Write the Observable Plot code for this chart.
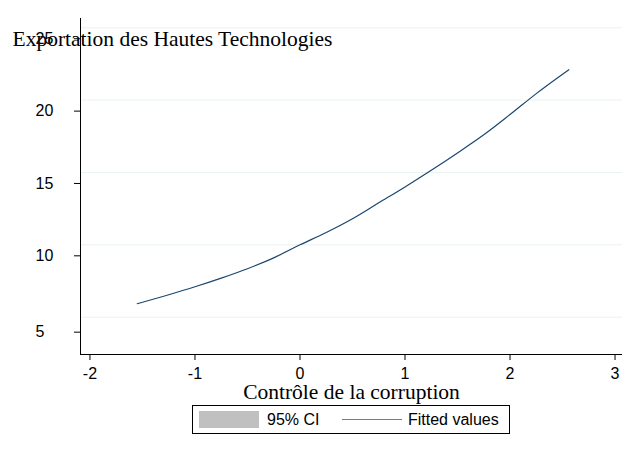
<!DOCTYPE html>
<html>
<head>
<meta charset="utf-8">
<script src="https://cdn.jsdelivr.net/npm/d3@7"></script>
<script src="https://cdn.jsdelivr.net/npm/@observablehq/plot@0.6"></script>
<style>
  html, body { margin: 0; padding: 0; background: #fff; }
  #wrap { position: relative; width: 627px; height: 450px; }
  #legend { position: absolute; left: 192px; top: 405px; width: 318px; height: 29px;
    box-sizing: border-box; border: 1px solid #000; font-family: "Liberation Sans", Arial, sans-serif; font-size: 16px; color: #000; background: #fff; }
  #legend .sw { position: absolute; left: 6px; top: 5px; width: 60px; height: 17px; background: #c0c0c0; }
  #legend .t1 { position: absolute; left: 74px; top: 4px; line-height: 20px; }
  #legend .ln { position: absolute; left: 149px; top: 13px; width: 60px; height: 0; border-top: 1.2px solid #5f82a8; }
  #legend .t2 { position: absolute; left: 215px; top: 4px; line-height: 20px; }
</style>
</head>
<body>
<div id="wrap">
  <div id="chart"></div>
  <div id="legend"><div class="sw"></div><span class="t1">95% CI</span><div class="ln"></div><span class="t2">Fitted values</span></div>
</div>
<script>
// Fitted values
const fitX = [-1.55, -1.25, -1, -0.75, -0.5, -0.25, 0, 0.25, 0.5, 0.75, 1, 1.25, 1.5, 1.75, 2, 2.25, 2.56];
const fitY = [5.93, 6.55, 7.1, 7.7, 8.35, 9.1, 10.0, 10.85, 11.8, 12.9, 14.0, 15.15, 16.35, 17.6, 19.0, 20.45, 22.1];
const xTicks = [-2, -1, 0, 1, 2, 3];
const yTicksMain = [10, 15, 20, 25];
const yTicksLow = [5];
const xDomain = [-2.09, 3.071];
const yDomain = [2.42, 25.64];
const xTitle = "Contrôle de la corruption";
const yTitle = "Exportation des Hautes Technologies";

const data = fitX.map((x, i) => ({x, y: fitY[i]}));
const sans = "Liberation Sans, Arial, sans-serif";
const serif = "Liberation Serif, Times New Roman, serif";
const fmt = d => String(d);

const chart = Plot.plot({
  width: 627,
  height: 405,
  marginLeft: 80,
  marginRight: 5,
  marginTop: 18,
  marginBottom: 51,
  style: {fontFamily: sans, fontSize: "16px", background: "#fff", color: "#000"},
  x: {domain: xDomain},
  y: {domain: yDomain},
  marks: [
    Plot.gridY(yTicksMain.concat(yTicksLow), {stroke: "#eaf2f3", strokeOpacity: 1}),
    Plot.axisY(yTicksMain, {tickSize: 6, tickPadding: 39, textAnchor: "start", dy: 11, label: null, fontSize: 16, tickFormat: fmt}),
    Plot.axisY(yTicksLow, {tickSize: 6, tickPadding: 39, textAnchor: "start", dy: 15, label: null, fontSize: 16, tickFormat: fmt}),
    Plot.axisX(xTicks, {tickSize: 6, tickPadding: 7, label: null, fontSize: 16, tickFormat: fmt}),
    Plot.ruleX([xDomain[0]], {stroke: "#000", strokeWidth: 1}),
    Plot.ruleY([yDomain[0]], {stroke: "#000", strokeWidth: 1}),
    Plot.line(data, {x: "x", y: "y", stroke: "#1a476f", strokeWidth: 1.2, curve: "monotone-x"}),
    Plot.text([yTitle], {frameAnchor: "top-left", textAnchor: "start", lineAnchor: "bottom", dx: -68, dy: 27, fontFamily: serif, fontSize: 21.5, fill: "#000"}),
    Plot.text([xTitle], {frameAnchor: "bottom", lineAnchor: "bottom", dy: 44, fontFamily: serif, fontSize: 21.5, fill: "#000"})
  ]
});
document.getElementById("chart").appendChild(chart);
</script>
</body>
</html>
